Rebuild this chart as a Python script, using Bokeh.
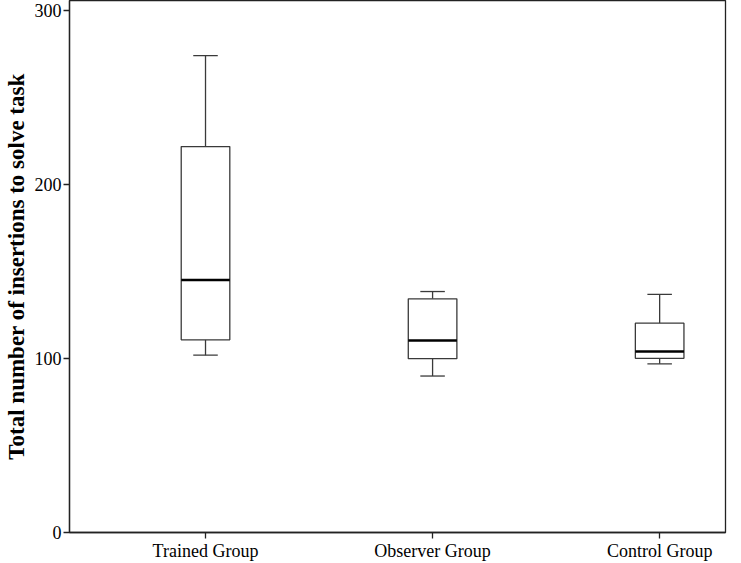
from bokeh.plotting import figure
from bokeh.models import ColumnDataSource, FixedTicker, Range1d
from bokeh.embed import file_html
from bokeh.resources import INLINE

# Data
groups = ["Trained Group", "Observer Group", "Control Group"]
whisker_low = [102, 90, 97]
q1 = [110.8, 100, 100.2]
median = [145.2, 110.5, 104.1]
q3 = [222, 134.4, 120.4]
whisker_high = [274.3, 138.6, 137]
y_ticks = [0, 100, 200, 300]

xpos = [1, 2, 3]
box_half = 0.107
cap_half = 0.054

src = ColumnDataSource(dict(
    x=xpos,
    left=[x - box_half for x in xpos],
    right=[x + box_half for x in xpos],
    cap_l=[x - cap_half for x in xpos],
    cap_r=[x + cap_half for x in xpos],
    lo=whisker_low, q1=q1, med=median, q3=q3, hi=whisker_high,
))

p = figure(width=727, height=563, output_backend="svg", toolbar_location=None,
           x_range=Range1d(0.401, 3.29), y_range=Range1d(0, 306),
           min_border_left=59, min_border_right=2, min_border_top=0, min_border_bottom=26)

p.background_fill_color = "white"
p.outline_line_color = "#222222"
p.outline_line_width = 1.3
p.xgrid.visible = False
p.ygrid.visible = False

line_col = "#3a3a3a"
# whiskers
p.segment(x0="x", y0="q3", x1="x", y1="hi", source=src, line_color=line_col, line_width=1.3)
p.segment(x0="x", y0="lo", x1="x", y1="q1", source=src, line_color=line_col, line_width=1.3)
p.segment(x0="cap_l", y0="hi", x1="cap_r", y1="hi", source=src, line_color=line_col, line_width=1.3)
p.segment(x0="cap_l", y0="lo", x1="cap_r", y1="lo", source=src, line_color=line_col, line_width=1.3)
# boxes
p.quad(left="left", right="right", bottom="q1", top="q3", source=src,
       fill_color="white", line_color=line_col, line_width=1.3)
# medians
p.segment(x0="left", y0="med", x1="right", y1="med", source=src, line_color="black", line_width=2.5)

font = "Liberation Serif"
p.xaxis.ticker = FixedTicker(ticks=xpos)
p.xaxis.major_label_overrides = {x: g for x, g in zip(xpos, groups)}
p.yaxis.ticker = FixedTicker(ticks=y_ticks)
for ax in (p.xaxis, p.yaxis):
    ax.axis_line_color = "#222222"
    ax.axis_line_width = 1.3
    ax.major_tick_line_color = "#222222"
    ax.major_tick_line_width = 1.3
    ax.major_tick_out = 6
    ax.major_tick_in = 0
    ax.minor_tick_line_color = None
    ax.major_label_text_font = font
    ax.major_label_text_font_size = "18px"
    ax.major_label_text_color = "black"
    ax.major_label_standoff = 2

p.yaxis.axis_label = "Total number of insertions to solve task"
p.yaxis.axis_label_text_font = font
p.yaxis.axis_label_text_font_size = "23px"
p.yaxis.axis_label_text_font_style = "bold"
p.yaxis.axis_label_text_color = "black"
p.yaxis.axis_label_standoff = 3

open("out.html", "w").write(file_html(p, INLINE))
